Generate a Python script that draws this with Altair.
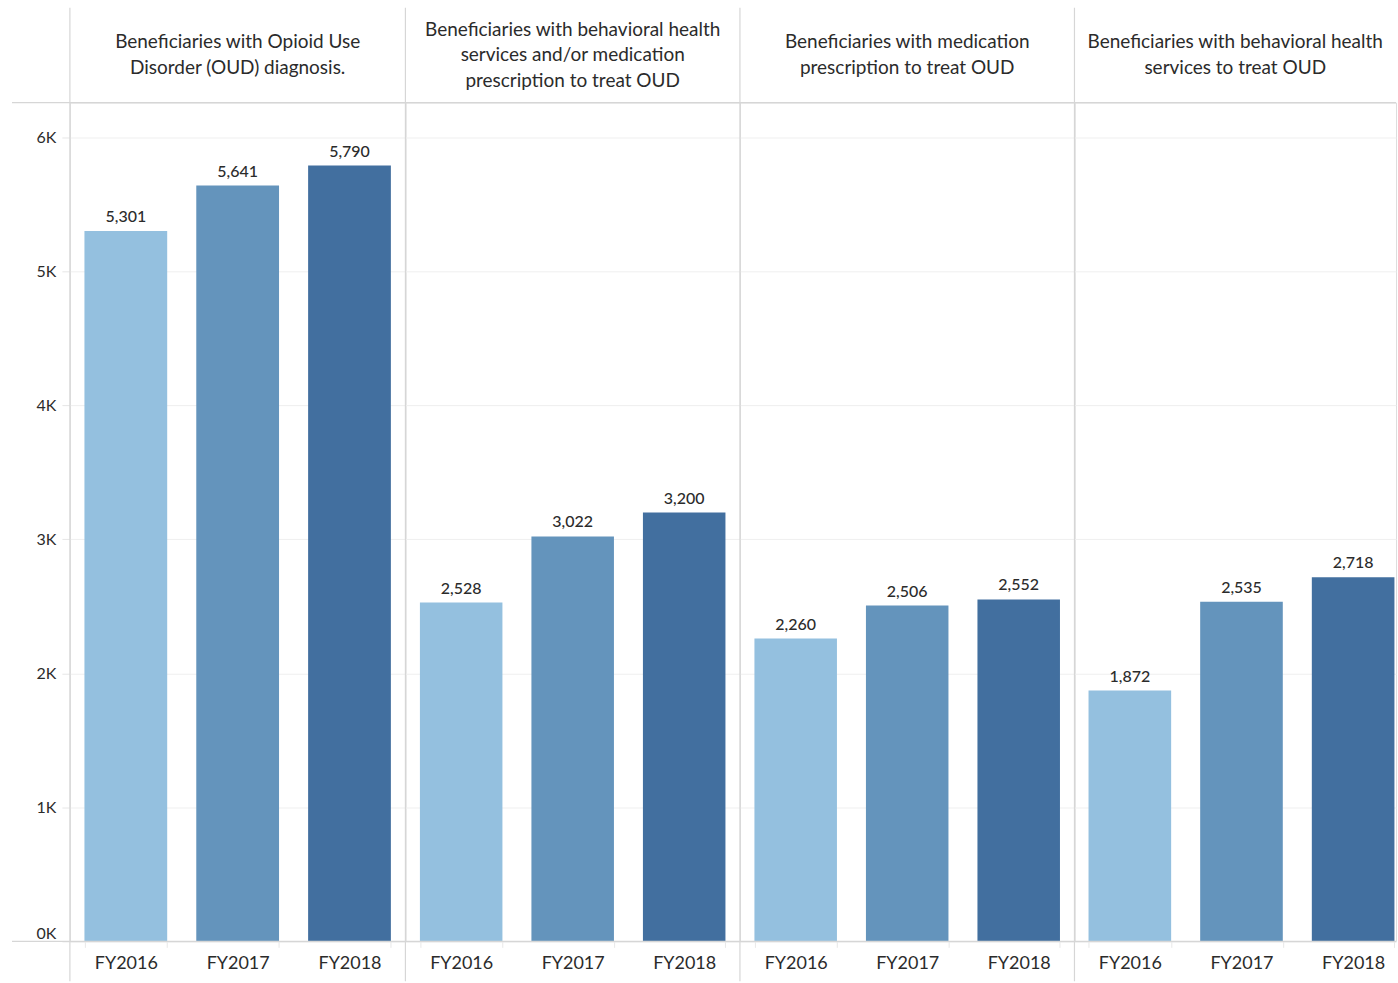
import altair as alt
import pandas as pd

# --- data -------------------------------------------------------------
headers = [
    "Beneficiaries with Opioid Use|Disorder (OUD) diagnosis.",
    "Beneficiaries with behavioral health|services and/or medication|prescription to treat OUD",
    "Beneficiaries with medication|prescription to treat OUD",
    "Beneficiaries with behavioral health|services to treat OUD",
]
years = ["FY2016", "FY2017", "FY2018"]
oud_diagnosis = [5301, 5641, 5790]
bh_or_medication = [2528, 3022, 3200]
medication_only = [2260, 2506, 2552]
bh_services_only = [1872, 2535, 2718]
series = [oud_diagnosis, bh_or_medication, medication_only, bh_services_only]
y_ticks = [0, 1000, 2000, 3000, 4000, 5000, 6000]
bar_colors = ["#94c0df", "#6494bc", "#426f9f"]

rows = []
for gi, vals in enumerate(series):
    for yr, v in zip(years, vals):
        rows.append({"panel": gi, "year": yr, "value": v})
df = pd.DataFrame(rows)

FONT = "Lato"
TEXT = "#2b2b2b"
LINE = "#d6d6d6"
PLOT_H = 840
HEAD_H = 95
FOOT_H = 40
LINE_H = 25.5
widths = [336, 335, 335, 322]
y_scale = alt.Scale(domain=[0, 6260], nice=False)


def panel(i):
    w = widths[i]
    if i < 3:
        xs = alt.Scale(domain=years, paddingInner=0.26, paddingOuter=0.13)
    else:
        xs = alt.Scale(domain=years, paddingInner=0.26, paddingOuter=0.07, align=0.9)

    if i == 0:
        y_axis = alt.Axis(
            values=y_ticks, labelExpr="datum.value / 1000 + 'K'", title=None,
            labelFontSize=16, labelColor=TEXT, labelFont=FONT, labelPadding=6,
            tickSize=8, tickColor="#e6e6e6", domain=False,
            grid=True, gridColor="#efefef", labelFlush=True,
        )
    else:
        y_axis = alt.Axis(
            values=y_ticks, labels=False, ticks=False, domain=False, title=None,
            grid=True, gridColor="#efefef",
        )

    x_axis = alt.Axis(
        title=None, labelAngle=0, labelFontSize=18, labelColor=TEXT, labelFont=FONT,
        labelPadding=7, domain=False, tickBand="extent", tickSize=6,
        tickColor="#e8e8e8",
    )

    base = alt.Chart(df).transform_filter(alt.datum.panel == i)

    bars = base.mark_bar().encode(
        x=alt.X("year:N", scale=xs, axis=x_axis),
        y=alt.Y("value:Q", scale=y_scale, axis=y_axis),
        color=alt.Color("year:N", scale=alt.Scale(domain=years, range=bar_colors),
                        legend=None),
    )
    labels = base.mark_text(
        baseline="bottom", dy=-6, fontSize=16, font=FONT, color=TEXT, fontWeight=500,
    ).encode(
        x=alt.X("year:N", scale=xs),
        y=alt.Y("value:Q", scale=y_scale),
        text=alt.Text("value:Q", format=","),
    )

    # header block, centred vertically in the strip above the plot
    n_lines = headers[i].count("|") + 1
    one = alt.Chart(pd.DataFrame({"header": [headers[i]]}))
    header = one.mark_text(
        lineBreak="|", lineHeight=LINE_H, fontSize=19, font=FONT, color=TEXT,
        align="center", baseline="middle",
    ).encode(
        text="header:N",
        x=alt.value(w / 2),
        y=alt.value(-HEAD_H / 2 - (n_lines - 1) * LINE_H / 2),
    )

    left = -58 if i == 0 else 0
    sep = one.mark_rule(color=LINE, strokeWidth=1.2).encode(
        x=alt.value(0), y=alt.value(-HEAD_H), y2=alt.value(PLOT_H + FOOT_H)
    )
    top = one.mark_rule(color=LINE, strokeWidth=1.2).encode(
        x=alt.value(left), x2=alt.value(w), y=alt.value(0)
    )
    bottom = one.mark_rule(color=LINE, strokeWidth=1.2).encode(
        x=alt.value(left), x2=alt.value(w), y=alt.value(PLOT_H)
    )

    return alt.layer(bars, labels, header, sep, top, bottom).properties(
        width=w, height=PLOT_H
    )


chart = (
    alt.hconcat(*[panel(i) for i in range(4)], spacing=0, bounds="flush")
    .properties(padding={"left": 10, "top": 5, "right": 0, "bottom": 0})
    .configure_view(stroke=None)
    .configure(background="white")
)

chart.save("out.html", embed_options={"renderer": "svg", "actions": False})
